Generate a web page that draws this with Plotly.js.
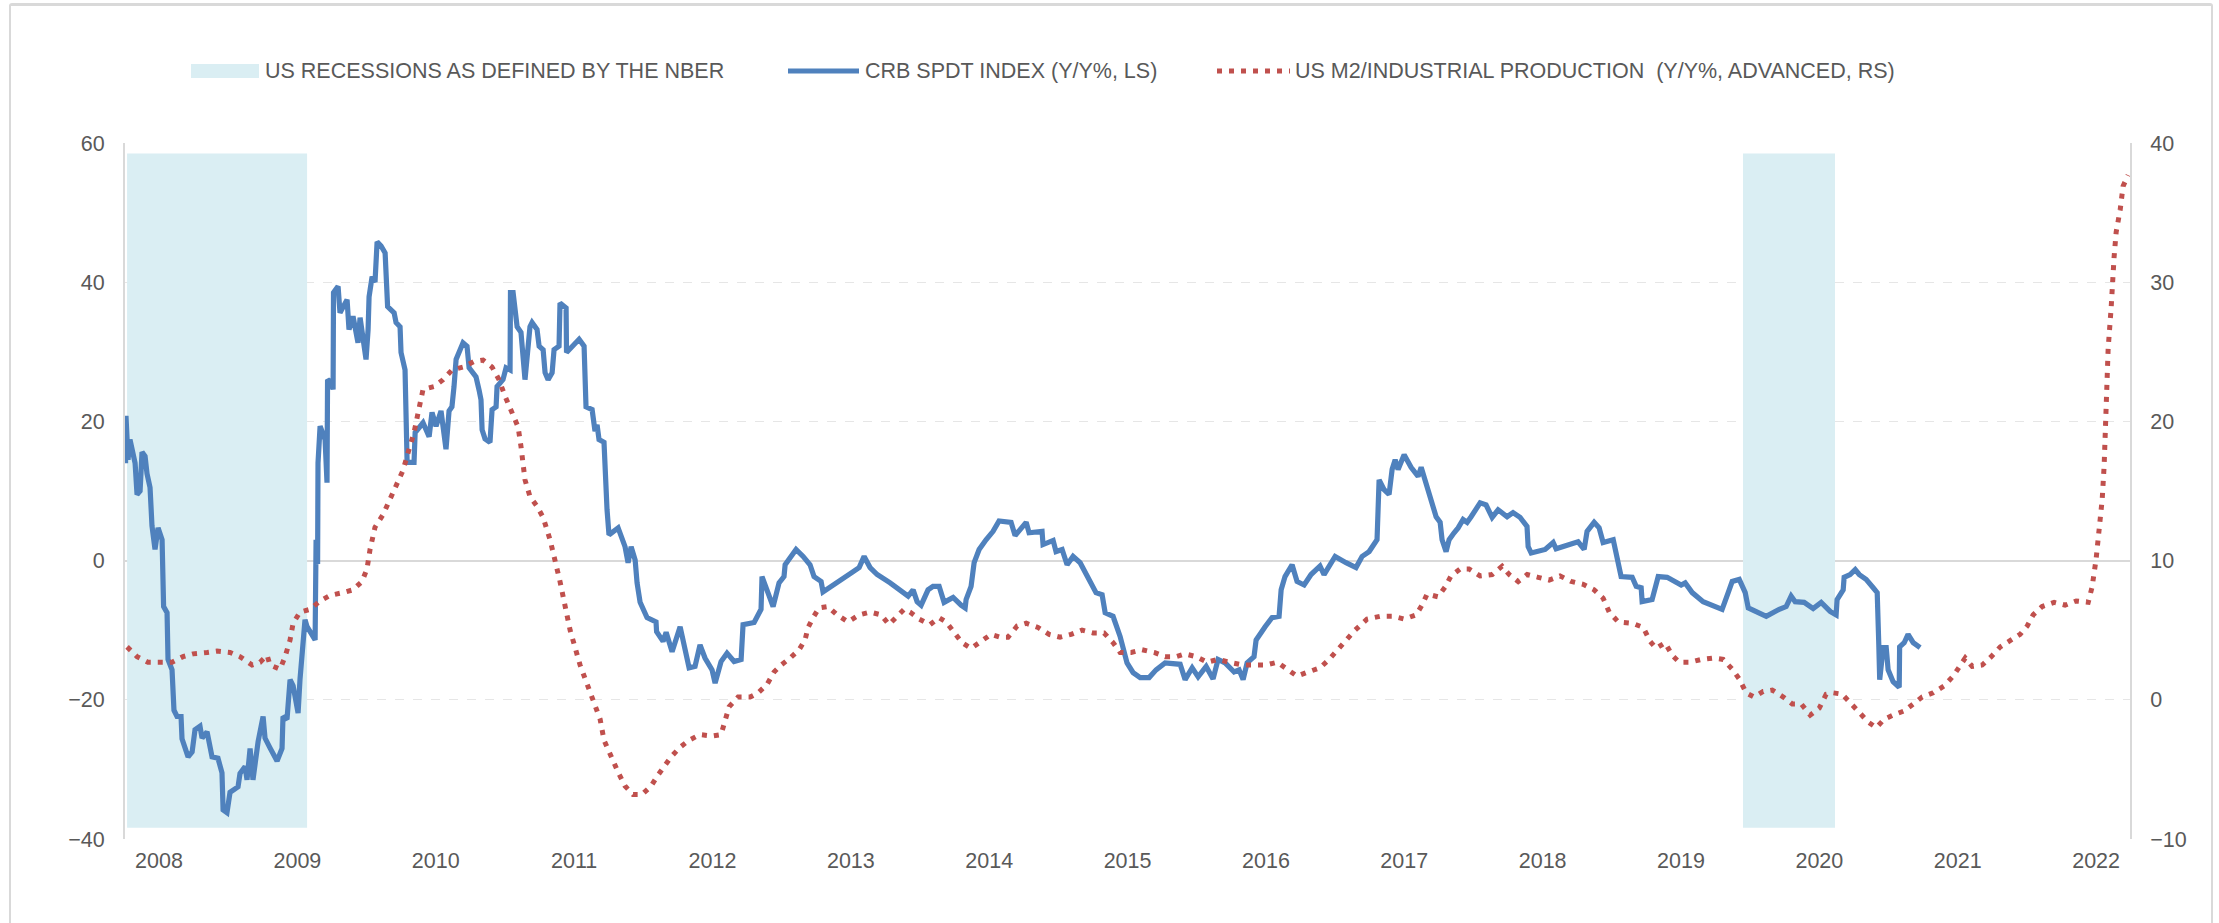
<!DOCTYPE html>
<html>
<head>
<meta charset="utf-8">
<script src="https://cdn.plot.ly/plotly-3.0.1.min.js"></script>
<style>
html,body{margin:0;padding:0;background:#ffffff;}
#wrap{position:relative;width:2219px;height:923px;overflow:hidden;}
#chart{position:absolute;left:0;top:0;width:2219px;height:923px;}
#frame{position:absolute;left:9px;top:3px;width:2200px;height:1000px;border:2px solid #D9D9D9;border-top-width:3px;border-radius:3px;pointer-events:none;box-sizing:content-box;}
</style>
</head>
<body>
<div id="wrap"><div id="chart"></div><div id="frame"></div></div>
<script>
// ---------- data ----------
const yearTicks  = [2008,2009,2010,2011,2012,2013,2014,2015,2016,2017,2018,2019,2020,2021,2022];
const yearLabels = ['2008','2009','2010','2011','2012','2013','2014','2015','2016','2017','2018','2019','2020','2021','2022'];

// US recessions as defined by the NBER (as placed on the chart's time axis)
const recStart = [2007.769, 2019.448];
const recEnd   = [2009.070, 2020.113];

// CRB SPDT index, Y/Y %, left scale
const crbX = [2007.758,2007.761,2007.776,2007.790,2007.827,2007.841,2007.863,2007.877,2007.899,2007.913,2007.935,2007.949,2007.971,2007.993,
2008.022,2008.025,2008.033,2008.058,2008.065,2008.094,2008.098,2008.108,2008.130,2008.159,2008.166,2008.188,2008.210,2008.239,2008.260,2008.296,
2008.311,2008.347,2008.383,2008.426,2008.455,2008.463,2008.491,2008.513,2008.535,2008.571,2008.585,2008.622,2008.636,2008.643,2008.658,2008.679,
2008.716,2008.752,2008.766,2008.802,2008.853,2008.889,2008.896,2008.925,2008.947,2008.969,2009.005,2009.019,2009.034,2009.041,2009.055,2009.070,
2009.106,2009.128,2009.135,2009.146,2009.149,2009.164,2009.200,2009.214,2009.218,2009.243,2009.258,2009.261,2009.294,2009.308,2009.359,2009.373,
2009.402,2009.438,2009.453,2009.467,2009.496,2009.511,2009.518,2009.540,2009.561,2009.576,2009.605,2009.634,2009.641,2009.652,2009.699,2009.713,
2009.742,2009.749,2009.778,2009.782,2009.789,2009.793,2009.843,2009.851,2009.908,2009.952,2009.973,2010.002,2010.038,2010.074,2010.096,2010.117,
2010.132,2010.147,2010.197,2010.226,2010.241,2010.291,2010.313,2010.327,2010.335,2010.356,2010.392,2010.407,2010.436,2010.443,2010.486,2010.508,
2010.537,2010.540,2010.559,2010.588,2010.616,2010.631,2010.645,2010.681,2010.696,2010.732,2010.747,2010.776,2010.790,2010.812,2010.841,2010.855,
2010.891,2010.898,2010.942,2010.945,2010.985,2011.036,2011.072,2011.086,2011.130,2011.151,2011.166,2011.180,2011.216,2011.231,2011.238,2011.252,
2011.318,2011.368,2011.390,2011.412,2011.441,2011.455,2011.477,2011.527,2011.592,2011.596,2011.643,2011.665,2011.708,2011.766,2011.802,2011.831,
2011.874,2011.910,2011.946,2011.997,2012.019,2012.062,2012.105,2012.156,2012.207,2012.221,2012.301,2012.351,2012.358,2012.438,2012.481,2012.517,
2012.525,2012.604,2012.655,2012.705,2012.734,2012.785,2012.799,2012.864,2012.944,2013.009,2013.060,2013.096,2013.139,2013.190,2013.284,2013.349,
2013.414,2013.450,2013.479,2013.508,2013.558,2013.594,2013.638,2013.674,2013.739,2013.797,2013.826,2013.833,2013.869,2013.891,2013.927,2013.977,
2014.028,2014.071,2014.122,2014.158,2014.187,2014.237,2014.267,2014.288,2014.382,2014.389,2014.462,2014.483,2014.527,2014.563,2014.606,2014.657,
2014.707,2014.772,2014.816,2014.838,2014.895,2014.946,2014.996,2015.040,2015.091,2015.156,2015.206,2015.271,2015.380,2015.416,2015.467,2015.510,
2015.568,2015.618,2015.654,2015.705,2015.770,2015.806,2015.835,2015.864,2015.914,2015.929,2015.994,2016.044,2016.095,2016.110,2016.138,2016.189,
2016.225,2016.276,2016.326,2016.391,2016.420,2016.500,2016.579,2016.651,2016.695,2016.746,2016.803,2016.818,2016.854,2016.890,2016.912,2016.934,
2016.955,2016.999,2017.049,2017.100,2017.122,2017.165,2017.194,2017.230,2017.259,2017.273,2017.302,2017.324,2017.360,2017.389,2017.425,2017.454,
2017.483,2017.548,2017.591,2017.635,2017.678,2017.743,2017.786,2017.837,2017.887,2017.895,2017.917,2018.018,2018.076,2018.097,2018.256,2018.300,
2018.321,2018.372,2018.408,2018.437,2018.510,2018.538,2018.567,2018.647,2018.676,2018.712,2018.719,2018.791,2018.835,2018.900,2019.001,2019.030,
2019.081,2019.160,2019.225,2019.297,2019.341,2019.370,2019.421,2019.464,2019.486,2019.551,2019.616,2019.710,2019.760,2019.796,2019.825,2019.890,
2019.955,2020.013,2020.078,2020.121,2020.128,2020.172,2020.179,2020.222,2020.259,2020.288,2020.338,2020.389,2020.418,2020.429,2020.436,2020.461,
2020.483,2020.497,2020.533,2020.577,2020.580,2020.613,2020.641,2020.678,2020.728];
const crbY = [14,20.8,14.5,17.4,14,9.5,10,15.6,15,12.5,10.5,5,1.6,4.7,
3,-2.7,-6.6,-7.5,-14.2,-15.7,-20,-21.5,-22.4,-22.4,-25.6,-26.9,-28.2,-27.5,-24.3,-23.8,
-25.5,-24.6,-28.2,-28.4,-30.5,-35.8,-36.2,-33.3,-33,-32.5,-30.6,-29.6,-31.5,-29.5,-27,-31.5,
-26,-22.4,-25.5,-26.9,-28.8,-27,-22.4,-22.8,-17.1,-18,-21.9,-17,-13.3,-12.4,-8.5,-9.5,
-10.5,-11.4,3,-0.5,14,19.3,17.4,11.2,26,25.6,24.6,38.5,39.4,35.6,37.5,33.2,
35.1,31.3,34.9,33.2,28.9,33.2,37.9,40.8,40,45.8,45.2,44.2,40.4,36.5,35.6,34.2,
33.6,29.9,27.4,22.7,21,14.1,14.1,18.4,19.8,17.8,21.3,19.3,21.5,16,21.5,22.1,
25,28.9,31.3,30.8,27.7,26.4,24.5,23.1,18.8,17.5,17,21.7,22.1,25,26,27.7,
27.4,38.5,38.5,33.6,32.8,29.9,26,33.6,34.2,33.2,30.8,30.3,27,26,27,30.3,
30.8,37,36.3,29.9,30.8,31.8,30.8,22.1,21.7,18.6,19.5,17.4,17,9.2,7.3,3.7,
4.7,2,-0.3,2,0.1,-3.2,-6,-8.2,-8.8,-10.2,-11.6,-10.3,-13.1,-9.5,-13.3,-15.4,
-15.2,-12.1,-14,-15.7,-17.6,-14.5,-13.3,-14.5,-14.2,-9.2,-8.9,-7,-2.3,-6.6,-3.2,-2.3,
-0.6,1.6,0.6,-0.6,-2.3,-3,-4.5,-3.7,-2.7,-1.7,-1,0.6,-1,-2,-3.2,-4.2,
-5.1,-4.2,-5.9,-6.4,-4.2,-3.7,-3.7,-6,-5.3,-6.4,-6.8,-5.6,-3.7,-0.3,1.6,3,
4.2,5.7,5.5,5.5,3.6,4.9,5.5,4,4.2,2.3,2.9,1.3,1.6,-0.6,0.6,-0.3,
-2.3,-4.6,-4.9,-7.5,-8,-10.9,-14.7,-16.1,-16.8,-16.8,-15.7,-14.7,-14.9,-17.1,-15.4,-16.7,
-15.2,-17,-14.2,-14.7,-16,-15.7,-17.1,-14.7,-13.8,-11.4,-9.5,-8.2,-8,-4.2,-2.3,-0.6,
-3,-3.5,-2,-0.8,-2,0.6,-0.3,-1,0.6,1.3,3,11.6,10.2,9.5,13.1,14.5,
13.1,15.2,13.4,12.1,13.4,10.6,9.2,6.3,5.5,3,1.3,3,4,4.7,5.9,5.5,
6.3,8.3,8,6.2,7.3,6.3,6.9,6.2,4.9,2,1.1,1.6,2.6,1.7,2.7,1.6,
4.2,5.5,4.7,2.6,3,0.6,-2.3,-2.4,-3.7,-3.9,-5.9,-5.6,-2.3,-2.4,-3.5,-3.2,
-4.6,-5.9,-6.5,-7,-4.6,-3,-2.7,-4.6,-6.8,-7.3,-8,-7,-6.6,-5.1,-5.9,-6,
-6.9,-6,-7.3,-7.8,-5.6,-4.2,-2.4,-2,-1.3,-2,-2.7,-3.9,-4.6,-11.8,-17.1,-12.5,
-12.5,-15.7,-17.4,-18.2,-12.4,-11.8,-10.6,-11.8,-12.5];

// US M2 / industrial production, Y/Y %, advanced, right scale
const m2X = [2007.769,2007.841,2007.920,2008.007,2008.094,2008.173,2008.246,2008.347,2008.419,2008.513,2008.585,2008.672,2008.730,2008.781,2008.802,
2008.875,2008.911,2008.947,2008.969,2009.019,2009.091,2009.164,2009.236,2009.330,2009.402,2009.467,2009.503,2009.525,2009.561,2009.619,2009.691,
2009.727,2009.764,2009.807,2009.843,2009.872,2009.908,2009.988,2010.053,2010.118,2010.197,2010.277,2010.342,2010.407,2010.457,2010.501,2010.551,
2010.595,2010.616,2010.631,2010.645,2010.681,2010.732,2010.776,2010.826,2010.898,2010.971,2011.043,2011.115,2011.188,2011.216,2011.267,2011.318,
2011.368,2011.426,2011.491,2011.556,2011.607,2011.657,2011.701,2011.766,2011.831,2011.910,2011.997,2012.062,2012.091,2012.120,2012.185,2012.272,
2012.330,2012.394,2012.445,2012.496,2012.561,2012.626,2012.669,2012.691,2012.727,2012.770,2012.835,2012.900,2012.980,2013.060,2013.139,2013.219,
2013.276,2013.334,2013.385,2013.428,2013.493,2013.573,2013.638,2013.688,2013.753,2013.804,2013.869,2013.948,2014.013,2014.079,2014.136,2014.202,
2014.267,2014.353,2014.433,2014.512,2014.592,2014.671,2014.751,2014.830,2014.896,2014.946,2015.026,2015.105,2015.192,2015.271,2015.351,2015.416,
2015.495,2015.575,2015.654,2015.734,2015.835,2015.914,2016.001,2016.081,2016.160,2016.225,2016.305,2016.391,2016.456,2016.521,2016.579,2016.644,
2016.731,2016.825,2016.919,2016.999,2017.085,2017.128,2017.165,2017.244,2017.295,2017.338,2017.403,2017.468,2017.548,2017.635,2017.707,2017.758,
2017.823,2017.888,2017.967,2018.047,2018.126,2018.206,2018.293,2018.372,2018.437,2018.481,2018.546,2018.647,2018.727,2018.777,2018.820,2018.885,
2018.936,2018.987,2019.066,2019.146,2019.232,2019.305,2019.370,2019.421,2019.471,2019.529,2019.594,2019.659,2019.739,2019.804,2019.869,2019.934,
2019.999,2020.049,2020.100,2020.165,2020.222,2020.288,2020.353,2020.411,2020.468,2020.533,2020.613,2020.678,2020.743,2020.822,2020.902,2020.967,
2021.017,2021.054,2021.104,2021.177,2021.242,2021.307,2021.386,2021.451,2021.502,2021.545,2021.610,2021.697,2021.776,2021.856,2021.943,2021.971,
2022.000,2022.022,2022.044,2022.058,2022.065,2022.080,2022.087,2022.109,2022.116,2022.130,2022.145,2022.174,2022.195,2022.231];
const m2Y = [3.8,3.1,2.7,2.7,2.7,3.1,3.3,3.4,3.5,3.4,3.1,2.5,2.7,3.2,2.5,
2.2,3.1,4.3,5.5,6.3,6.5,7.1,7.5,7.7,7.9,8.5,9.4,10.8,12.4,13.3,14.9,
15.8,16.5,18,19.2,20.6,22.3,22.5,23,23.7,23.9,24.3,24.4,23.9,23,21.8,20.6,
19.6,18.2,17,15.8,14.6,13.9,13.1,11.5,8.5,5,2.5,0.5,-1.4,-2.9,-4.1,-5.2,
-6.2,-6.8,-6.8,-6.2,-5.4,-4.7,-4.1,-3.4,-2.9,-2.5,-2.6,-2.5,-1.4,-0.5,0.2,0.2,
0.5,1.1,2,2.5,3,3.6,4.3,5.2,5.9,6.6,6.7,6.1,5.6,6.1,6.3,6.1,
5.4,6,6.5,6.3,5.8,5.4,5.9,5.6,4.8,4.1,3.7,4.2,4.7,4.5,4.5,5.3,
5.5,5.2,4.7,4.5,4.7,5,4.8,4.8,4.1,3.4,3.4,3.6,3.4,3.1,3.1,3.3,
3.1,2.7,2.9,2.7,2.5,2.5,2.5,2.7,2.2,1.7,2,2.3,2.9,3.6,4.3,5,
5.8,6,6,5.8,6.1,6.8,7.6,7.4,8.1,8.9,9.4,9.4,8.9,9,9.6,9,
8.5,9,8.8,8.6,8.9,8.5,8.3,7.9,7.3,6.3,5.6,5.5,5.2,4.2,3.7,4.1,
3.2,2.7,2.7,2.9,3,2.9,2.2,1.5,0.5,0.2,0.6,0.7,0.2,-0.3,-0.3,-1.1,
-0.6,0.4,0.5,0.4,-0.2,-0.9,-1.6,-2,-1.4,-1.1,-0.8,-0.3,0.2,0.5,1,1.7,
2.5,3,2.4,2.5,3.1,3.8,4.3,4.7,5.3,6.1,6.7,7,6.8,7.1,7,8.1,
10.1,12,14.4,16.8,19.2,22.5,25.2,28.2,30.2,31.8,33.6,35.2,36.9,37.7];

// ---------- styling ----------
const FONT = 'Liberation Sans, Arial, Helvetica, sans-serif';
const TXT = '#595959';
const BLUE = '#4F81BD';
const RED = '#C0504D';
const SHADE = '#DAEEF3';
const PL = 125, PR = 2130, PT = 143, PB = 839;           // plot box in page pixels
const PX = v => (v - PL) / (PR - PL);
const PY = v => (PB - v) / (PB - PT);
const LEGY = 71;

const traces = [
  {x: crbX, y: crbY, type: 'scatter', mode: 'lines', yaxis: 'y',
   line: {color: BLUE, width: 5.2}, showlegend: false, hoverinfo: 'skip'},
  {x: m2X, y: m2Y, type: 'scatter', mode: 'lines', yaxis: 'y2',
   line: {color: RED, width: 5, dash: '5px,7px'}, showlegend: false, hoverinfo: 'skip'}
];

const shapes = recStart.map((s, i) => ({
  type: 'rect', xref: 'x', yref: 'y', x0: s, x1: recEnd[i], y0: -38.4, y1: 58.5,
  fillcolor: SHADE, line: {width: 0}, layer: 'between'
}));
// legend keys
shapes.push({type: 'rect', xref: 'paper', yref: 'paper', x0: PX(191), x1: PX(259), y0: PY(LEGY + 7), y1: PY(LEGY - 7),
  fillcolor: SHADE, line: {width: 0}});
shapes.push({type: 'line', xref: 'paper', yref: 'paper', x0: PX(788), x1: PX(859), y0: PY(LEGY), y1: PY(LEGY),
  line: {color: BLUE, width: 5.2}});
shapes.push({type: 'line', xref: 'paper', yref: 'paper', x0: PX(1217), x1: PX(1290), y0: PY(LEGY), y1: PY(LEGY),
  line: {color: RED, width: 5, dash: '5px,7px'}});

const legendTexts = ['US RECESSIONS AS DEFINED BY THE NBER', 'CRB SPDT INDEX (Y/Y%, LS)', 'US M2/INDUSTRIAL PRODUCTION\u00A0 (Y/Y%, ADVANCED, RS)'];
const legendX = [263, 863, 1293];
const annotations = legendTexts.map((t, i) => ({
  text: t, xref: 'paper', yref: 'paper', x: PX(legendX[i]), y: PY(LEGY),
  xanchor: 'left', yanchor: 'middle', showarrow: false,
  font: {family: FONT, size: 21.5, color: TXT}
}));

const layout = {
  width: 2219, height: 923,
  margin: {l: PL, r: 2219 - PR, t: PT, b: 923 - PB, pad: 0},
  paper_bgcolor: '#ffffff', plot_bgcolor: '#ffffff',
  font: {family: FONT, size: 21, color: TXT},
  showlegend: false,
  xaxis: {
    type: 'linear', range: [2007.754, 2022.245],
    tickmode: 'array', tickvals: yearTicks, ticktext: yearLabels,
    showgrid: false, zeroline: false, showline: false, ticks: '',
    tickfont: {family: FONT, size: 21.5, color: TXT}, ticklabelstandoff: 6
  },
  yaxis: {
    range: [-40, 60], tickmode: 'linear', tick0: -40, dtick: 20,
    showgrid: true, gridcolor: '#E6E6E6', gridwidth: 1, griddash: 'dash',
    zeroline: true, zerolinecolor: '#D9D9D9', zerolinewidth: 2,
    showline: true, linecolor: '#D9D9D9', linewidth: 2, ticks: '',
    tickfont: {family: FONT, size: 21.5, color: TXT}, ticklabelstandoff: 14
  },
  yaxis2: {
    range: [-10, 40], tickmode: 'linear', tick0: -10, dtick: 10,
    overlaying: 'y', side: 'right', anchor: 'x',
    showgrid: false, zeroline: false,
    showline: true, linecolor: '#D9D9D9', linewidth: 2, ticks: '',
    tickfont: {family: FONT, size: 21.5, color: TXT}, ticklabelstandoff: 14
  },
  shapes: shapes,
  annotations: annotations
};

Plotly.newPlot('chart', traces, layout, {staticPlot: true, displayModeBar: false});
</script>
</body>
</html>
